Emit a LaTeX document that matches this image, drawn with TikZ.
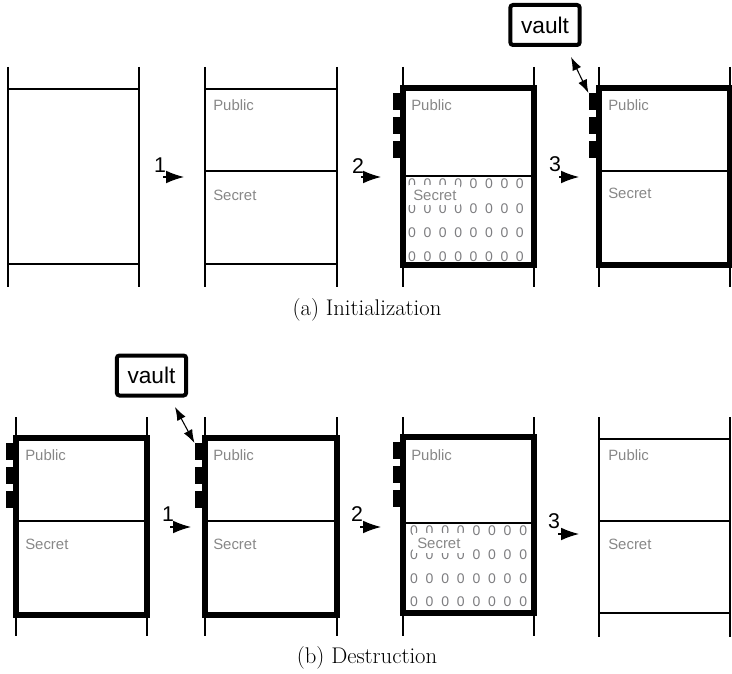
\documentclass[tikz,border=0pt]{standalone}
\usepackage{fontspec}
\newfontfamily\labelfont{Liberation Sans}
\usetikzlibrary{arrows.meta}

\definecolor{fieldgray}{RGB}{135,135,135}
\definecolor{zerogray}{RGB}{125,125,128}

% three black tabs on the left edge of a locked slot
\newcommand\tabstrip[3]{%
  \node[tabmark, anchor=north east] (#3a) at (#1,#2+5) {};
  \node[tabmark, anchor=north east] (#3b) at (#1,#2+29) {};
  \node[tabmark, anchor=north east] (#3c) at (#1,#2+53) {};
}
% grid of zeros filling the secret half
\newcommand\zerogrid[4]{%
  \foreach \i in {0,...,7}
    \foreach \j in {0,...,3}
      \node[zero] at (#1+#2*\i, #3+#4*\j) {0};
}

\begin{document}
\begin{tikzpicture}[x=0.75pt, y=-0.75pt,
  thinline/.style={line width=1.4pt},
  frame/.style={line width=3.8pt},
  tabmark/.style={fill=black, draw=none, inner sep=0pt, minimum width=7.5pt, minimum height=12.5pt},
  field/.style={font=\labelfont\fontsize{11.2}{13}\selectfont, text=fieldgray, anchor=west, inner sep=0pt},
  coverlabel/.style={field, fill=white, inner xsep=3pt, inner ysep=0pt, minimum height=14.5pt},
  zero/.style={font=\labelfont\fontsize{10.5}{12}\selectfont, text=zerogray, inner sep=0pt},
  steplabel/.style={font=\labelfont\fontsize{16}{19}\selectfont, inner sep=0pt},
  steparrow/.style={-{Latex[length=13.5pt,width=9.5pt]}, line width=0.8pt},
  vaultlink/.style={{Latex[length=10pt,width=7pt]}-{Latex[length=10pt,width=7pt]}, line width=0.8pt},
  vaultbox/.style={draw, line width=3pt, rounded corners=2pt, inner sep=0pt,
    minimum width=52pt, minimum height=30pt, font=\labelfont\fontsize{17}{20}\selectfont},
  caption/.style={font=\fontsize{17}{20}\selectfont, inner sep=0pt}
]
\useasboundingbox (0,0) rectangle (732,674);

% ---------------- (a) Initialization ----------------
% empty slot
\draw[thinline] (8,67) -- (8,287) (139,67) -- (139,287);
\draw[thinline] (8,89) -- (139,89) (8,264) -- (139,264);

% slot split into public and secret halves
\draw[thinline] (205,67) -- (205,287) (337,67) -- (337,287);
\draw[thinline] (205,89) -- (337,89) (205,171) -- (337,171) (205,264) -- (337,264);
\node[field] at (213,105) {Public};
\node[field] at (213,195) {Secret};

% locked slot with secret filled by zeros
\draw[thinline] (403,67) -- (403,287) (534,67) -- (534,287);
\draw[thinline] (403,176) -- (534,176);
\zerogrid{412}{15.4}{184}{24.3}
\draw[frame] (403,88) rectangle (534,265);
\tabstrip{403}{88}{ta}
\node[field] at (411,105) {Public};
\node[coverlabel] at (409,195) {Secret};

% locked slot linked to the vault
\draw[thinline] (599,67) -- (599,287) (730,67) -- (730,287);
\draw[thinline] (599,171) -- (730,171);
\draw[frame] (599,88) rectangle (730,265);
\tabstrip{599}{88}{tb}
\node[field] at (608,105) {Public};
\node[field] at (608,193) {Secret};

\node[vaultbox] (vaultA) at (545,25) {vault};
\coordinate (vaA) at (571,57);
\draw[vaultlink] (vaA) -- (tba.north west);

% step arrows
\node[steplabel] (na1) at (160,165) {1};
\coordinate (a1s) at (163,177); \coordinate (a1e) at (184,177);
\draw[steparrow] (a1s) -- (a1e);
\node[steplabel] (na2) at (358,166) {2};
\coordinate (a2s) at (361,177); \coordinate (a2e) at (381,177);
\draw[steparrow] (a2s) -- (a2e);
\node[steplabel] (na3) at (555,164) {3};
\coordinate (a3s) at (559,177); \coordinate (a3e) at (579,177);
\draw[steparrow] (a3s) -- (a3e);

\node[caption] (capA) at (367,310) {(a) Initialization};

% ---------------- (b) Destruction ----------------
% locked slot linked to the vault
\draw[thinline] (16,417) -- (16,636) (147,417) -- (147,636);
\draw[thinline] (16,521) -- (147,521);
\draw[frame] (16,438) rectangle (147,615);
\tabstrip{16}{438}{tc}
\node[field] at (25,455) {Public};
\node[field] at (25,544) {Secret};

% locked slot, vault released
\draw[thinline] (205,417) -- (205,636) (337,417) -- (337,636);
\draw[thinline] (205,521) -- (337,521);
\draw[frame] (205,438) rectangle (337,615);
\tabstrip{205}{438}{td}
\node[field] at (213,455) {Public};
\node[field] at (213,544) {Secret};

\node[vaultbox] (vaultB) at (151.5,375.5) {vault};
\coordinate (vaB) at (175,407);
\draw[vaultlink] (vaB) -- (tda.north west);

% locked slot with secret wiped to zeros
\draw[thinline] (403,417) -- (403,636) (534,417) -- (534,636);
\draw[thinline] (403,523) -- (534,523);
\zerogrid{414}{15.6}{531}{23.7}
\draw[frame] (403,437) rectangle (534,613);
\tabstrip{403}{437}{te}
\node[field] at (411,455) {Public};
\node[coverlabel] at (413,543) {Secret};

% released slot
\draw[thinline] (599,417) -- (599,637) (730,417) -- (730,637);
\draw[thinline] (599,439) -- (730,439) (599,521) -- (730,521) (599,613) -- (730,613);
\node[field] at (608,455) {Public};
\node[field] at (608,544) {Secret};

% step arrows
\node[steplabel] (nb1) at (168,514) {1};
\coordinate (b1s) at (170,527); \coordinate (b1e) at (191,527);
\draw[steparrow] (b1s) -- (b1e);
\node[steplabel] (nb2) at (357,514) {2};
\coordinate (b2s) at (360,527); \coordinate (b2e) at (381,527);
\draw[steparrow] (b2s) -- (b2e);
\node[steplabel] (nb3) at (554,521) {3};
\coordinate (b3s) at (558,534); \coordinate (b3e) at (579,534);
\draw[steparrow] (b3s) -- (b3e);

\node[caption] (capB) at (367,658) {(b) Destruction};
\end{tikzpicture}
\end{document}
